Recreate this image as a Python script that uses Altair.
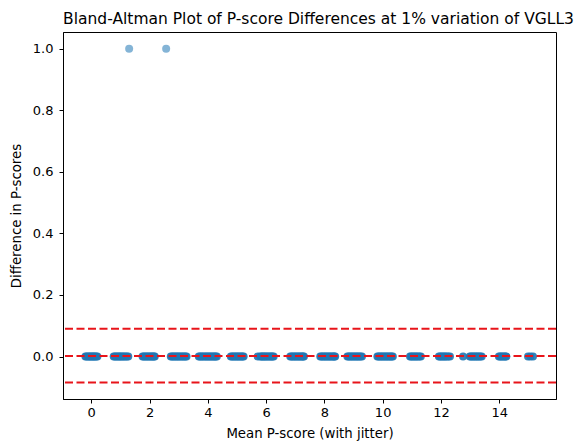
import altair as alt
import pandas as pd

TITLE = "Bland-Altman Plot of P-score Differences at 1% variation of VGLL3"

# jittered mean P-scores of the pairs whose difference is 0, one list per score level
cluster_0 = [-0.20, -0.16, -0.11, -0.07, -0.03, 0.01, 0.05, 0.09, 0.12, 0.17, 0.21]
cluster_1 = [0.77, 0.81, 0.86, 0.90, 0.95, 0.99, 1.03, 1.08, 1.12, 1.17, 1.22, 1.27]
cluster_2 = [1.76, 1.80, 1.85, 1.89, 1.94, 1.98, 2.03, 2.07, 2.11, 2.15, 2.18]
cluster_3 = [2.73, 2.77, 2.82, 2.86, 2.91, 2.95, 3.00, 3.04, 3.09, 3.14, 3.18, 3.23, 3.27]
cluster_4 = [3.69, 3.73, 3.78, 3.82, 3.87, 3.92, 3.96, 4.01, 4.05, 4.10, 4.14, 4.19, 4.23, 4.27, 4.31]
cluster_5 = [4.79, 4.83, 4.88, 4.92, 4.97, 5.01, 5.06, 5.10, 5.15, 5.19, 5.23]
cluster_6 = [5.71, 5.80, 5.84, 5.88, 5.92, 5.96, 6.00, 6.05, 6.09, 6.14, 6.18, 6.22, 6.26]
cluster_7 = [6.83, 6.87, 6.92, 6.96, 7.01, 7.05, 7.10, 7.14, 7.19, 7.23, 7.27, 7.30]
cluster_8 = [7.86, 7.90, 7.95, 7.99, 8.04, 8.08, 8.13, 8.17, 8.22, 8.26, 8.31, 8.34, 8.37]
cluster_9 = [8.79, 8.83, 8.88, 8.92, 8.97, 9.01, 9.06, 9.10, 9.15, 9.19, 9.24, 9.29]
cluster_10 = [9.82, 9.86, 9.91, 9.95, 10.00, 10.04, 10.09, 10.13, 10.18, 10.22, 10.27, 10.31, 10.35]
cluster_11 = [10.94, 10.98, 11.03, 11.07, 11.12, 11.16, 11.21, 11.26, 11.31]
cluster_12 = [11.93, 11.97, 12.02, 12.06, 12.11, 12.15, 12.20, 12.25, 12.31]
cluster_13 = [12.76, 12.99, 13.03, 13.08, 13.12, 13.17, 13.21, 13.26, 13.30, 13.35, 13.40]
cluster_14 = [13.99, 14.03, 14.08, 14.12, 14.17, 14.21, 14.25]
cluster_15 = [14.99, 15.07, 15.16]

# the two pairs whose difference is 1
outlier_x = [1.30, 2.57]
outlier_y = [1.0, 1.0]

# upper limit of agreement, mean difference, lower limit of agreement
line_values = [0.0898, 0.002, -0.0843]

clusters = [cluster_0, cluster_1, cluster_2, cluster_3, cluster_4, cluster_5, cluster_6,
            cluster_7, cluster_8, cluster_9, cluster_10, cluster_11, cluster_12,
            cluster_13, cluster_14, cluster_15]

zero_rows = []
for c in clusters:
    for x in c:
        zero_rows.append({"x": x, "y": 0.0})
zero_df = pd.DataFrame(zero_rows)
outlier_df = pd.DataFrame({"x": outlier_x, "y": outlier_y})
lines_df = pd.DataFrame({"y": line_values})
title_df = pd.DataFrame({"t": [TITLE]})

W, H = 493, 367

x_scale = alt.Scale(domain=[-0.97, 15.95], nice=False, zero=False)
y_scale = alt.Scale(domain=[-0.138, 1.054], nice=False, zero=False)

x_enc = alt.X("x:Q", scale=x_scale,
              axis=alt.Axis(title="Mean P-score (with jitter)", values=list(range(0, 15, 2)),
                            format="d", labelPadding=3, titlePadding=7))
y_enc = alt.Y("y:Q", scale=y_scale,
              axis=alt.Axis(title="Difference in P-scores", values=[0.0, 0.2, 0.4, 0.6, 0.8, 1.0],
                            format=".1f", labelPadding=6, titlePadding=9))

zero_points = alt.Chart(zero_df).mark_circle(
    color="#1f77b4", opacity=0.9, size=64
).encode(x=x_enc, y=y_enc)

outlier_points = alt.Chart(outlier_df).mark_circle(
    color="#1f77b4", opacity=0.55, size=64
).encode(x=alt.X("x:Q", scale=x_scale), y=alt.Y("y:Q", scale=y_scale))

lines = alt.Chart(lines_df).mark_rule(
    color="#e8141a", strokeDash=[8, 3.5], strokeWidth=2
).encode(y=alt.Y("y:Q", scale=y_scale))

title_mark = alt.Chart(title_df).mark_text(
    font="DejaVu Sans", fontSize=15.5, color="black", align="center", baseline="alphabetic"
).encode(x=alt.value(W / 2 + 9), y=alt.value(-8), text="t:N")

chart = alt.layer(zero_points, outlier_points, lines, title_mark).properties(
    width=W,
    height=H,
    padding={"left": 55, "top": 24, "right": 20, "bottom": 43},
    autosize=alt.AutoSizeParams(type="none"),
).configure_axis(
    grid=False,
    labelFont="DejaVu Sans",
    labelFontSize=13,
    labelColor="black",
    titleFont="DejaVu Sans",
    titleFontSize=13.3,
    titleFontWeight="normal",
    titleColor="black",
    tickColor="black",
    domainColor="black",
    tickSize=4,
    domainWidth=1,
).configure_view(
    stroke="black", strokeWidth=1
)

chart.save("out.html", embed_options={"renderer": "svg", "actions": False})
